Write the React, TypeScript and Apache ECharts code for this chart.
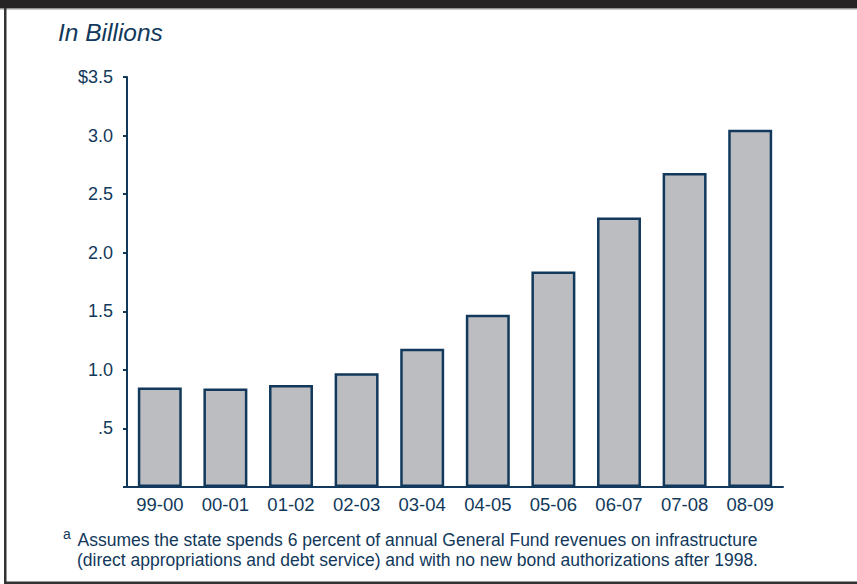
import React, { useEffect, useRef } from "react";
import * as echarts from "echarts";

const categories = ["99-00", "00-01", "01-02", "02-03", "03-04", "04-05", "05-06", "06-07", "07-08", "08-09"];
const values = [0.85, 0.84, 0.87, 0.97, 1.18, 1.47, 1.84, 2.3, 2.68, 3.05];
const titleText = "In Billions";
const footLine1 = "Assumes the state spends 6 percent of annual General Fund revenues on infrastructure";
const footLine2 = "(direct appropriations and debt service) and with no new bond authorizations after 1998.";

const NAVY = "#12395b";
const FONT = "'Liberation Sans', Arial, Helvetica, sans-serif";

export default function App() {
  const ref = useRef<HTMLDivElement>(null);
  useEffect(() => {
    if (!ref.current) return;
    const chart = echarts.init(ref.current, null, { renderer: "svg" });
    chart.setOption({
      animation: false,
      backgroundColor: "#ffffff",
      textStyle: { fontFamily: FONT },
      grid: { left: 127, right: 74, top: 77, bottom: 97, containLabel: false },
      xAxis: {
        type: "category",
        data: categories,
        axisLine: { lineStyle: { color: NAVY, width: 2 } },
        axisTick: { show: false },
        axisLabel: { color: NAVY, fontSize: 18.5, margin: 8, fontFamily: FONT },
      },
      yAxis: {
        type: "value",
        min: 0,
        max: 3.5,
        interval: 0.5,
        splitLine: { show: false },
        axisLine: { show: true, lineStyle: { color: NAVY, width: 2 } },
        axisTick: { show: true, inside: false, length: 4, lineStyle: { color: NAVY, width: 2 } },
        axisLabel: {
          color: NAVY,
          fontSize: 18,
          margin: 14,
          fontFamily: FONT,
          formatter: (v: number) => {
            if (v === 0) return "";
            if (v === 0.5) return ".5";
            if (v === 3.5) return "$3.5";
            return v.toFixed(1);
          },
        },
      },
      series: [
        {
          type: "bar",
          data: values,
          barCategoryGap: "33%",
          itemStyle: { color: "#bcbdc1", borderColor: NAVY, borderWidth: 2.5 },
        },
      ],
      graphic: [
        { type: "rect", shape: { x: 0, y: 0, width: 857, height: 8.5 }, style: { fill: "#262424" }, z: 100 },
        { type: "rect", shape: { x: 0, y: 8.5, width: 857, height: 1 }, style: { fill: "#9a9a9a" }, z: 100 },
        { type: "rect", shape: { x: 4, y: 8, width: 2.5, height: 576 }, style: { fill: "#333333" }, z: 100 },
        { type: "rect", shape: { x: 4, y: 581.5, width: 853, height: 2.5 }, style: { fill: "#333333" }, z: 100 },
        {
          type: "text",
          x: 58,
          y: 32,
          style: { text: titleText, fill: NAVY, fontSize: 24.5, fontStyle: "italic", fontFamily: FONT, verticalAlign: "middle" },
        },
        {
          type: "text",
          x: 63,
          y: 533.5,
          style: { text: "a", fill: NAVY, fontSize: 14, fontFamily: FONT, verticalAlign: "middle" },
        },
        {
          type: "text",
          x: 417.5,
          y: 540,
          style: { text: footLine1, fill: NAVY, fontSize: 17.5, fontFamily: FONT, verticalAlign: "middle", align: "center" },
        },
        {
          type: "text",
          x: 417.5,
          y: 560,
          style: { text: footLine2, fill: NAVY, fontSize: 17.5, fontFamily: FONT, verticalAlign: "middle", align: "center" },
        },
      ],
    });
    return () => chart.dispose();
  }, []);
  return <div ref={ref} style={{ position: "fixed", left: 0, top: 0, width: 857, height: 584 }} />;
}
